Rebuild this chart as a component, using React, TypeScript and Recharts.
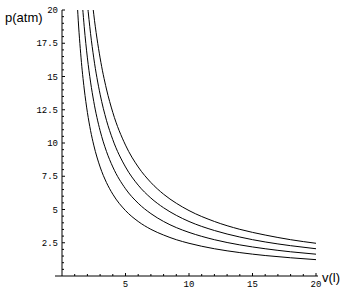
import { LineChart, Line, XAxis, YAxis, ReferenceLine } from 'recharts';

// volume (litres) sampled along each isotherm
const VOLUMES = [1, 1.25, 1.5, 1.75, 2, 2.25, 2.5, 3, 3.5, 4, 5, 6, 7, 8, 9, 10, 12, 14, 16, 18, 20];

// pressure (atm), lowest to highest
const P1 = [24.6, 19.68, 16.4, 14.06, 12.3, 10.93, 9.84, 8.2, 7.03, 6.15, 4.92, 4.1, 3.51, 3.08, 2.73, 2.46, 2.05, 1.76, 1.54, 1.37, 1.23];
const P2 = [32.8, 26.24, 21.87, 18.74, 16.4, 14.58, 13.12, 10.93, 9.37, 8.2, 6.56, 5.47, 4.69, 4.1, 3.64, 3.28, 2.73, 2.34, 2.05, 1.82, 1.64];
const P3 = [41, 32.8, 27.33, 23.43, 20.5, 18.22, 16.4, 13.67, 11.71, 10.25, 8.2, 6.83, 5.86, 5.13, 4.56, 4.1, 3.42, 2.93, 2.56, 2.28, 2.05];
const P4 = [49.2, 39.36, 32.8, 28.11, 24.6, 21.87, 19.68, 16.4, 14.06, 12.3, 9.84, 8.2, 7.03, 6.15, 5.47, 4.92, 4.1, 3.51, 3.08, 2.73, 2.46];

const X_LABELS = [5, 10, 15, 20];
const Y_LABELS = [2.5, 5, 7.5, 10, 12.5, 15, 17.5, 20];

// minor ticks: every 1 on v, every 0.5 on p
const X_TICKS = Array.from({ length: 20 }, (_, i) => i + 1);
const Y_TICKS = Array.from({ length: 40 }, (_, i) => (i + 1) * 0.5);

const data = VOLUMES.map((v, i) => ({ v, t1: P1[i], t2: P2[i], t3: P3[i], t4: P4[i] }));

const TICK_FONT = { fontFamily: '"Liberation Mono", monospace', fontSize: 9, fill: '#000' };
const Y_SHIFT = 7; // y axis sits at v=0, inside the padded x range

function XTick(props: any) {
  const { x, y, payload } = props;
  const major = X_LABELS.includes(payload.value);
  return (
    <g>
      <line x1={x} x2={x} y1={y} y2={y - (major ? 3 : 2)} stroke="#000" />
      {major && (
        <text x={x} y={y + 11} textAnchor="middle" {...TICK_FONT}>{payload.value}</text>
      )}
    </g>
  );
}

function YTick(props: any) {
  const { x, y, payload } = props;
  const ax = x + Y_SHIFT;
  const major = Y_LABELS.includes(payload.value);
  return (
    <g>
      <line x1={ax} x2={ax + (major ? 3 : 2)} y1={y} y2={y} stroke="#000" />
      {major && (
        <text x={ax - 4} y={y + 3} textAnchor="end" {...TICK_FONT}>{payload.value}</text>
      )}
    </g>
  );
}

export default function App() {
  return (
    <div style={{ position: 'absolute', left: 0, top: 0, width: 359, height: 306, background: '#fff' }}>
      <LineChart width={359} height={306} data={data} margin={{ top: 10, right: 41, left: 0, bottom: 0 }}>
        <XAxis
          dataKey="v" type="number" domain={[0, 20]} ticks={X_TICKS} interval={0}
          padding={{ left: 7, right: 2 }} height={30}
          axisLine={{ stroke: '#000' }} tickLine={false} tickSize={0} tickMargin={0}
          tick={<XTick />}
        />
        <YAxis
          type="number" domain={[0, 20]} allowDataOverflow ticks={Y_TICKS} interval={0}
          width={55} axisLine={false} tickLine={false} tickSize={0} tickMargin={0}
          tick={<YTick />}
        />
        <ReferenceLine x={0} stroke="#000" ifOverflow="visible" />
        <Line type="monotone" dataKey="t1" stroke="#000" strokeWidth={1} dot={false} isAnimationActive={false} />
        <Line type="monotone" dataKey="t2" stroke="#000" strokeWidth={1} dot={false} isAnimationActive={false} />
        <Line type="monotone" dataKey="t3" stroke="#000" strokeWidth={1} dot={false} isAnimationActive={false} />
        <Line type="monotone" dataKey="t4" stroke="#000" strokeWidth={1} dot={false} isAnimationActive={false} />
        <text x={5} y={22} fontFamily='"Liberation Sans", Arial, sans-serif' fontSize={13} fill="#000">p(atm)</text>
        <text x={322} y={282} fontFamily='"Liberation Sans", Arial, sans-serif' fontSize={13} fill="#000">v(l)</text>
      </LineChart>
    </div>
  );
}
